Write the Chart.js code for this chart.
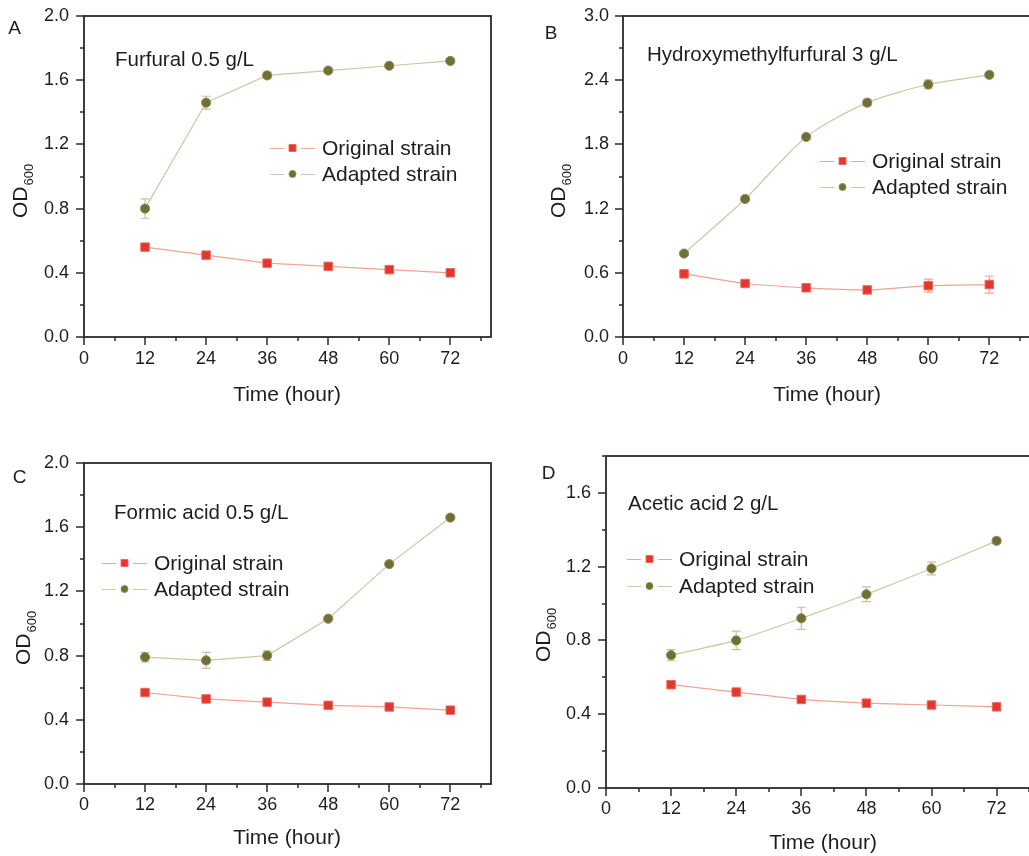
<!DOCTYPE html>
<html><head><meta charset="utf-8">
<script src="https://cdn.jsdelivr.net/npm/chart.js@4.4.1/dist/chart.umd.min.js"></script>
<style>
html,body{margin:0;padding:0;background:#fff;overflow:hidden;width:1029px;height:856px;position:relative;}
canvas{position:absolute;left:0;top:0;}
</style></head><body>
<canvas id="cA" width="1060" height="856"></canvas>
<canvas id="cB" width="1060" height="856"></canvas>
<canvas id="cC" width="1060" height="856"></canvas>
<canvas id="cD" width="1060" height="856"></canvas>
<script>
// ---------- DATA ----------
const hours = [12, 24, 36, 48, 60, 72];
const seriesNames = ['Original strain', 'Adapted strain'];
const panelLetters = ['A', 'B', 'C', 'D'];
const panelTitles = ['Furfural 0.5 g/L', 'Hydroxymethylfurfural 3 g/L', 'Formic acid 0.5 g/L', 'Acetic acid 2 g/L'];
const xAxisTitle = 'Time (hour)';
const yAxisTitleMain = 'OD';
const yAxisTitleSub = '600';

const xTicks = [0, 6, 12, 18, 24, 30, 36, 42, 48, 54, 60, 66, 72, 78];
const xTickLabels = [0, 12, 24, 36, 48, 60, 72];

const yTicksA = [0, 0.2, 0.4, 0.6, 0.8, 1.0, 1.2, 1.4, 1.6, 1.8, 2.0];
const yLabelsA = [0, 0.4, 0.8, 1.2, 1.6, 2.0];
const yTicksB = [0, 0.3, 0.6, 0.9, 1.2, 1.5, 1.8, 2.1, 2.4, 2.7, 3.0];
const yLabelsB = [0, 0.6, 1.2, 1.8, 2.4, 3.0];
const yTicksC = [0, 0.2, 0.4, 0.6, 0.8, 1.0, 1.2, 1.4, 1.6, 1.8, 2.0];
const yLabelsC = [0, 0.4, 0.8, 1.2, 1.6, 2.0];
const yTicksD = [0, 0.2, 0.4, 0.6, 0.8, 1.0, 1.2, 1.4, 1.6, 1.8];
const yLabelsD = [0, 0.4, 0.8, 1.2, 1.6];

const furfuralOriginal    = [0.56, 0.51, 0.46, 0.44, 0.42, 0.40];
const furfuralOriginalErr = [0.01, 0.01, 0.01, 0.01, 0.01, 0.01];
const furfuralAdapted     = [0.80, 1.46, 1.63, 1.66, 1.69, 1.72];
const furfuralAdaptedErr  = [0.06, 0.04, 0.02, 0.01, 0.01, 0.01];

const hmfOriginal    = [0.59, 0.50, 0.46, 0.44, 0.48, 0.49];
const hmfOriginalErr = [0.01, 0.01, 0.01, 0.01, 0.06, 0.08];
const hmfAdapted     = [0.78, 1.29, 1.87, 2.19, 2.36, 2.45];
const hmfAdaptedErr  = [0.01, 0.02, 0.02, 0.03, 0.04, 0.02];

const formicOriginal    = [0.57, 0.53, 0.51, 0.49, 0.48, 0.46];
const formicOriginalErr = [0.01, 0.01, 0.01, 0.01, 0.01, 0.01];
const formicAdapted     = [0.79, 0.77, 0.80, 1.03, 1.37, 1.66];
const formicAdaptedErr  = [0.03, 0.05, 0.03, 0.01, 0.01, 0.01];

const aceticOriginal    = [0.56, 0.52, 0.48, 0.46, 0.45, 0.44];
const aceticOriginalErr = [0.01, 0.01, 0.01, 0.01, 0.01, 0.01];
const aceticAdapted     = [0.72, 0.80, 0.92, 1.05, 1.19, 1.34];
const aceticAdaptedErr  = [0.03, 0.05, 0.06, 0.04, 0.035, 0.015];

// ---------- STYLE / LAYOUT ----------
const FONT = "'Liberation Sans', Arial, Helvetica, sans-serif";
const AXIS_COLOR = '#2b2b2b';
const TEXT_COLOR = '#1e1e1e';
const styles = [
  { line: '#f3a390', fill: '#e23631', border: '#ee6a5a', err: '#f3a390', shape: 'rect' },
  { line: '#c9c9a4', fill: '#707034', border: '#8c8c58', err: '#c4c49c', shape: 'circle' }
];
const layouts = [
  { id: 'cA', area: { l: 84, r: 491, t: 16, b: 337 }, yMax: 2.0, tension: 0,
    yLabelPad: 15, xLabelPad: 11, letter: [14.5, 29], title: [115, 60],
    legend: [270, 148, 174], xTitle: [287, 395], yTitle: [27, 218] },
  { id: 'cB', area: { l: 623, r: 1030, t: 16, b: 337 }, yMax: 3.0, tension: 0.25,
    yLabelPad: 14, xLabelPad: 11, letter: [551, 34], title: [647, 55],
    legend: [820, 161, 187], xTitle: [827, 395], yTitle: [565, 218] },
  { id: 'cC', area: { l: 84, r: 491, t: 463, b: 784 }, yMax: 2.0, tension: 0,
    yLabelPad: 15, xLabelPad: 10, letter: [19.5, 478], title: [114, 513],
    legend: [102, 563, 589], xTitle: [287, 838], yTitle: [30, 665] },
  { id: 'cD', area: { l: 606, r: 1040, t: 456, b: 788 }, yMax: 1.8, tension: 0.2,
    yLabelPad: 15, xLabelPad: 10, letter: [548.5, 474], title: [628, 504],
    legend: [627, 559, 586], xTitle: [823, 843], yTitle: [550, 662] }
];

const panelData = [
  { values: [furfuralOriginal, furfuralAdapted], errs: [furfuralOriginalErr, furfuralAdaptedErr], yTicks: yTicksA, yLabels: yLabelsA },
  { values: [hmfOriginal, hmfAdapted], errs: [hmfOriginalErr, hmfAdaptedErr], yTicks: yTicksB, yLabels: yLabelsB },
  { values: [formicOriginal, formicAdapted], errs: [formicOriginalErr, formicAdaptedErr], yTicks: yTicksC, yLabels: yLabelsC },
  { values: [aceticOriginal, aceticAdapted], errs: [aceticOriginalErr, aceticAdaptedErr], yTicks: yTicksD, yLabels: yLabelsD }
];

const isIn = (arr, v) => arr.some(a => Math.abs(a - v) < 1e-6);

function drawMarker(ctx, shape, x, y, size, st) {
  ctx.save();
  ctx.fillStyle = st.fill; ctx.strokeStyle = st.border; ctx.lineWidth = 1;
  ctx.beginPath();
  if (shape === 'rect') ctx.rect(x - size / 2, y - size / 2, size, size);
  else ctx.arc(x, y, size / 2, 0, Math.PI * 2);
  ctx.fill(); ctx.stroke();
  ctx.restore();
}

function makePanel(idx) {
  const L = layouts[idx], D = panelData[idx];
  const canvas = document.getElementById(L.id);
  const CW = canvas.width, CH = canvas.height;
  const YW = 40, XH = 40;

  const datasets = D.values.map((vals, s) => ({
    label: seriesNames[s],
    data: hours.map((h, i) => ({ x: h, y: vals[i] })),
    errors: D.errs[s],
    borderColor: styles[s].line,
    borderWidth: 1.2,
    backgroundColor: styles[s].fill,
    pointBackgroundColor: styles[s].fill,
    pointBorderColor: styles[s].border,
    pointBorderWidth: 1,
    pointStyle: styles[s].shape,
    pointRadius: styles[s].shape === 'rect' ? 6 : 4.6,
    tension: L.tension,
    order: 1 - s
  }));

  const deco = {
    id: 'deco' + idx,
    beforeDatasetsDraw(chart) {
      const ctx = chart.ctx, xs = chart.scales.x, ys = chart.scales.y;
      chart.data.datasets.forEach((ds, s) => {
        ctx.save();
        ctx.strokeStyle = styles[s].err; ctx.lineWidth = 1.2;
        ds.data.forEach((p, i) => {
          const e = ds.errors[i];
          if (!e) return;
          const px = xs.getPixelForValue(p.x);
          const y1 = ys.getPixelForValue(p.y + e), y2 = ys.getPixelForValue(p.y - e);
          ctx.beginPath();
          ctx.moveTo(px, y1); ctx.lineTo(px, y2);
          ctx.moveTo(px - 4.5, y1); ctx.lineTo(px + 4.5, y1);
          ctx.moveTo(px - 4.5, y2); ctx.lineTo(px + 4.5, y2);
          ctx.stroke();
        });
        ctx.restore();
      });
    },
    afterDraw(chart) {
      const ctx = chart.ctx, a = chart.chartArea, xs = chart.scales.x, ys = chart.scales.y;
      ctx.save();
      ctx.strokeStyle = AXIS_COLOR; ctx.lineWidth = 1.8;
      ctx.strokeRect(a.left, a.top, a.right - a.left, a.bottom - a.top);
      ctx.lineWidth = 1.5;
      ctx.beginPath();
      xTicks.forEach(v => {
        const px = Math.round(xs.getPixelForValue(v));
        const len = isIn(xTickLabels, v) ? 8 : 4;
        ctx.moveTo(px, a.bottom); ctx.lineTo(px, a.bottom + len);
      });
      D.yTicks.forEach(v => {
        const py = Math.round(ys.getPixelForValue(v));
        const len = isIn(D.yLabels, v) ? 8 : 4;
        ctx.moveTo(a.left, py); ctx.lineTo(a.left - len, py);
      });
      ctx.stroke();
      ctx.fillStyle = TEXT_COLOR;
      ctx.textBaseline = 'middle';
      ctx.textAlign = 'center';
      ctx.font = '19px ' + FONT;
      ctx.fillText(panelLetters[idx], L.letter[0], L.letter[1]);
      ctx.textAlign = 'left';
      ctx.font = '20.5px ' + FONT;
      ctx.fillText(panelTitles[idx], L.title[0], L.title[1]);
      ctx.textAlign = 'center';
      ctx.font = '21px ' + FONT;
      ctx.fillText(xAxisTitle, L.xTitle[0], L.xTitle[1]);
      ctx.save();
      ctx.translate(L.yTitle[0], L.yTitle[1]);
      ctx.rotate(-Math.PI / 2);
      ctx.textAlign = 'left'; ctx.textBaseline = 'alphabetic';
      ctx.font = '21px ' + FONT;
      ctx.fillText(yAxisTitleMain, 0, 0);
      const w = ctx.measureText(yAxisTitleMain).width;
      ctx.font = '13px ' + FONT;
      ctx.fillText(yAxisTitleSub, w + 1, 6);
      ctx.restore();
      const [lx, r1, r2] = L.legend;
      [r1, r2].forEach((ry, s) => {
        ctx.strokeStyle = styles[s].line; ctx.lineWidth = 1.2;
        ctx.beginPath();
        ctx.moveTo(lx, ry + 0.5); ctx.lineTo(lx + 14, ry + 0.5);
        ctx.moveTo(lx + 31, ry + 0.5); ctx.lineTo(lx + 45, ry + 0.5);
        ctx.stroke();
        drawMarker(ctx, styles[s].shape, lx + 22.5, ry, 7, styles[s]);
        ctx.fillStyle = TEXT_COLOR;
        ctx.font = '21px ' + FONT;
        ctx.textAlign = 'left'; ctx.textBaseline = 'middle';
        ctx.fillText(seriesNames[s], lx + 52, ry + 1);
      });
      ctx.restore();
    }
  };

  const pad = { left: L.area.l - YW, right: CW - L.area.r, top: L.area.t, bottom: CH - L.area.b - XH };
  const chart = new Chart(canvas, {
    type: 'line',
    data: { datasets },
    options: {
      responsive: false,
      animation: false,
      devicePixelRatio: 1,
      layout: { padding: pad, autoPadding: false },
      plugins: { legend: { display: false }, tooltip: { enabled: false } },
      scales: {
        x: {
          type: 'linear', min: 0, max: 80,
          afterFit(scale) { scale.height = XH; scale.paddingLeft = 0; scale.paddingRight = 0; },
          afterBuildTicks(scale) { scale.ticks = xTicks.map(v => ({ value: v })); },
          grid: { display: false, drawTicks: false },
          border: { display: false },
          ticks: {
            autoSkip: false, maxRotation: 0, padding: L.xLabelPad,
            color: TEXT_COLOR, font: { family: FONT, size: 18 },
            callback: v => (isIn(xTickLabels, v) ? String(v) : '')
          }
        },
        y: {
          type: 'linear', min: 0, max: L.yMax,
          afterFit(scale) { scale.width = YW; scale.paddingTop = 0; scale.paddingBottom = 0; },
          afterBuildTicks(scale) { scale.ticks = D.yTicks.map(v => ({ value: v })); },
          grid: { display: false, drawTicks: false },
          border: { display: false },
          ticks: {
            autoSkip: false, padding: L.yLabelPad,
            color: TEXT_COLOR, font: { family: FONT, size: 18 },
            callback: v => (isIn(D.yLabels, v) ? Number(v).toFixed(1) : '')
          }
        }
      }
    },
    plugins: [deco]
  });

  // nudge the layout padding so the plot area lands exactly where the reference has it
  for (let k = 0; k < 3; k++) {
    const a = chart.chartArea;
    const dl = L.area.l - a.left, dr = a.right - L.area.r, dt = L.area.t - a.top, db = a.bottom - L.area.b;
    if (Math.abs(dl) < 0.5 && Math.abs(dr) < 0.5 && Math.abs(dt) < 0.5 && Math.abs(db) < 0.5) break;
    pad.left += dl; pad.right += dr; pad.top += dt; pad.bottom += db;
    chart.options.layout.padding = { ...pad };
    chart.update('none');
  }
  return chart;
}

[0, 1, 2, 3].forEach(makePanel);
</script>
</body></html>
